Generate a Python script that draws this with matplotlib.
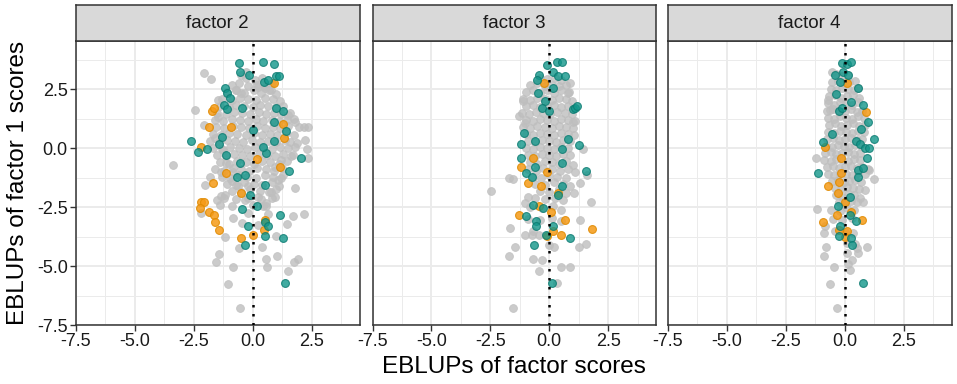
import numpy as np
import matplotlib.pyplot as plt
from matplotlib.ticker import MultipleLocator

plt.rcParams['font.family'] = ['Liberation Sans', 'DejaVu Sans']

panels = ['factor 2', 'factor 3', 'factor 4']
ticks = [-7.5, -5.0, -2.5, 0.0, 2.5]
tick_labels = ['-7.5', '-5.0', '-2.5', '0.0', '2.5']

# ---- factor 2 ----
f2_gray = [
    (-2.06, 3.18), (-1.78, 2.92), (-2.43, 1.62), (-2.06, 0.99), (-3.38, -0.71), (-1.82, -1.24),
    (-2.03, -1.58), (-1.50, -2.19), (-1.33, -2.02), (-1.16, -1.99), (-2.20, -2.73), (-0.83, -2.97),
    (-0.45, -3.18), (-1.16, -3.77), (-1.43, -4.49), (-1.54, -4.84), (-0.83, -5.06), (-1.07, -5.75),
    (-0.55, -6.78), (-0.58, -4.24), (0.40, -4.21), (0.58, -4.70), (0.62, -5.04), (1.03, -4.59),
    (1.50, -5.20), (1.75, -4.84), (1.92, -4.68), (1.00, -3.71), (1.45, -3.21), (1.72, -2.87),
    (2.16, -2.77), (0.65, -2.78), (0.23, -3.25), (1.81, -1.67), (1.29, -1.13), (2.20, 0.35),
    (2.32, -0.04), (2.34, -0.42), (2.18, 0.89), (2.34, 0.89), (1.75, 1.26), (1.50, 1.41),
    (1.89, 0.21), (-0.27, 3.25), (-0.48, 3.11), (0.23, 2.61), (0.51, 2.54), (0.79, 2.47),
    (-0.69, 2.47), (-0.48, 2.33), (-1.47, 2.05), (-1.47, 1.34), (-1.61, 0.42), (-1.26, -0.07),
    (-1.12, -0.64), (-1.33, -0.99), (-0.90, -1.41), (-0.20, -1.62), (0.23, -2.05), (0.58, -2.33),
    (0.79, -1.84), (1.07, -1.34), (0.93, -0.78), (1.21, -0.49), (1.64, -0.35), (1.78, 0.07),
    (-0.20, -2.75), (-0.34, -2.19), (-0.62, -1.62), (-0.83, -0.99), (0.44, -2.47), (0.93, -2.05),
    (-0.3, 3.0), (0.1, 2.9), (0.4, 3.0),
    (-0.9, 2.7), (-0.6, 2.75), (-0.2, 2.65), (0.2, 2.7), (0.5, 2.65), (0.8, 2.75),
    (-1.1, 2.4), (-0.7, 2.45), (-0.35, 2.35), (0.05, 2.45), (0.35, 2.35), (0.7, 2.45), (1.0, 2.3),
    (-1.3, 2.1), (-0.9, 2.05), (-0.55, 2.15), (-0.2, 2.1), (0.15, 2.05), (0.5, 2.15), (0.85, 2.1), (1.15, 2.0),
    (-1.4, 1.8), (-1.0, 1.75), (-0.7, 1.85), (-0.35, 1.8), (0.0, 1.75), (0.3, 1.85), (0.65, 1.8), (1.0, 1.75),
    (1.3, 1.8), (-1.5, 1.5), (-1.15, 1.45), (-0.8, 1.55), (-0.45, 1.5), (-0.1, 1.45), (0.25, 1.55),
    (0.55, 1.45), (0.9, 1.5), (1.2, 1.45), (1.6, 1.5),
    (-1.6, 1.2), (-1.25, 1.15), (-0.9, 1.25), (-0.55, 1.2), (-0.2, 1.15), (0.15, 1.25), (0.45, 1.15),
    (0.8, 1.2), (1.1, 1.15), (1.45, 1.2), (1.8, 1.1),
    (-1.55, 0.9), (-1.2, 0.85), (-0.85, 0.95), (-0.5, 0.9), (-0.15, 0.85), (0.2, 0.95), (0.5, 0.85),
    (0.85, 0.9), (1.15, 0.85), (1.5, 0.95), (1.95, 0.9),
    (-1.7, 0.6), (-1.35, 0.55), (-1.0, 0.65), (-0.65, 0.6), (-0.3, 0.55), (0.05, 0.65), (0.4, 0.55),
    (0.75, 0.6), (1.05, 0.55), (1.4, 0.65), (1.75, 0.55),
    (-1.8, 0.3), (-1.45, 0.25), (-1.1, 0.35), (-0.75, 0.3), (-0.4, 0.25), (-0.05, 0.35), (0.3, 0.25),
    (0.65, 0.3), (1.0, 0.25), (1.35, 0.35), (1.6, 0.25),
    (-1.7, 0.0), (-1.3, -0.05), (-0.95, 0.05), (-0.6, 0.0), (-0.25, -0.05), (0.1, 0.05), (0.45, 0.0),
    (0.8, -0.05), (1.15, 0.05), (1.5, 0.0),
    (-1.5, -0.3), (-1.15, -0.35), (-0.8, -0.25), (-0.45, -0.3), (-0.1, -0.35), (0.25, -0.25), (0.6, -0.3),
    (0.95, -0.35), (1.3, -0.25), (1.7, -0.3),
    (-1.4, -0.6), (-1.0, -0.65), (-0.65, -0.55), (-0.3, -0.6), (0.05, -0.65), (0.4, -0.55), (0.75, -0.6),
    (1.1, -0.65), (1.45, -0.55),
    (-1.6, -0.9), (-1.2, -0.95), (-0.85, -0.85), (-0.5, -0.9), (-0.15, -0.95), (0.2, -0.85), (0.55, -0.9),
    (0.9, -0.95), (1.25, -0.85),
    (-1.3, -1.2), (-0.95, -1.25), (-0.6, -1.15), (-0.25, -1.2), (0.15, -1.25), (0.5, -1.15), (0.85, -1.2),
    (1.2, -1.25), (-1.1, -1.5), (-0.7, -1.55), (-0.35, -1.45), (0.05, -1.5), (0.4, -1.55), (0.8, -1.45),
    (1.1, -1.6), (-0.9, -1.8), (-0.5, -1.85), (-0.1, -1.75), (0.3, -1.8), (0.7, -1.85), (1.0, -1.75),
    (-1.2, -2.1), (-0.7, -2.15), (-0.2, -2.1), (0.35, -2.15), (0.8, -2.1),
    (-1.4, -2.4), (-0.9, -2.45), (0.0, -2.4), (0.55, -2.45),
]
f2_orange = [
    (0.89, 2.78), (-1.75, 1.60), (-1.64, 1.69), (-1.85, 0.92), (-0.93, 0.89), (1.29, 1.02),
    (1.33, 0.45), (-2.20, 0.07), (0.17, -0.44), (1.17, -0.81), (-1.12, -1.03), (-1.68, -1.48),
    (-0.48, -1.91), (-2.20, -2.26), (-2.06, -2.30), (-2.25, -2.54), (-1.85, -2.71), (-1.64, -2.82),
    (-1.61, -3.15), (-1.44, -3.49), (-0.51, -3.80), (0.01, -3.67), (0.51, -3.04), (0.48, -3.46),
]
f2_teal = [
    (-0.59, 3.63), (0.45, 3.64), (0.90, 3.56), (-0.52, 3.22), (-0.17, 3.09), (1.00, 3.06),
    (1.12, 3.08), (0.48, 2.80), (0.65, 2.90), (-1.16, 2.57), (-1.09, 2.33), (-0.95, 2.12),
    (-1.23, 1.84), (-1.09, 1.68), (-0.44, 1.69), (1.30, 1.57), (1.00, 1.69), (0.90, 1.13),
    (1.41, 0.75), (-2.60, 0.31), (-2.32, -0.18), (-1.94, -0.04), (-1.44, 0.18), (-1.31, 0.49),
    (-1.12, -0.28), (0.90, 0.31), (0.58, -0.21), (2.06, -0.42), (1.53, -0.96), (-0.52, -0.61),
    (-0.66, -1.23), (-0.34, -1.13), (0.54, -1.58), (-0.13, -1.98), (-0.44, -2.57), (0.20, -2.43),
    (1.14, -2.85), (0.51, -3.11), (0.65, -3.28), (-0.20, -3.32), (0.54, -3.74), (1.30, -3.81),
    (-0.31, -4.11), (1.36, -5.72), (0.01, 0.78), (0.44, 0.07),
]

# ---- factor 3 ----
f3_gray = [
    (-2.49, -1.81), (-1.69, -1.27), (-1.55, -1.30), (-1.67, -3.39), (-1.45, -4.21), (-1.71, -4.59),
    (-1.55, -6.78), (-1.03, -3.70), (-0.68, -4.69), (-0.42, -5.20), (-0.32, -4.73), (0.21, -4.19),
    (0.48, -5.06), (0.88, -5.04), (1.27, -4.21), (1.55, -4.07), (1.30, -3.04), (1.79, -2.26),
    (1.05, -1.91), (1.30, -1.48), (1.61, -1.13), (1.44, -0.04), (1.02, 1.13), (0.85, 2.40),
    (0.90, 2.78), (-1.13, 2.01), (-1.27, 1.37), (-1.03, 1.06), (-0.89, -2.05), (-1.03, -2.33),
    (-0.68, -3.53), (-0.75, -3.70), (-0.45, -3.70), (0.31, -5.72), (0.0, -4.1),
    (-0.4, 3.0), (-0.1, 2.95), (0.25, 3.0), (0.5, 2.9),
    (-0.8, 2.7), (-0.5, 2.75), (-0.2, 2.65), (0.1, 2.7), (0.4, 2.65), (0.7, 2.7),
    (-1.0, 2.4), (-0.7, 2.45), (-0.4, 2.35), (-0.1, 2.45), (0.2, 2.35), (0.5, 2.45), (0.8, 2.35),
    (-1.1, 2.1), (-0.8, 2.05), (-0.5, 2.15), (-0.2, 2.1), (0.1, 2.05), (0.4, 2.15), (0.7, 2.1), (0.95, 2.0),
    (-1.0, 1.8), (-0.7, 1.85), (-0.4, 1.75), (-0.1, 1.8), (0.2, 1.85), (0.5, 1.75), (0.8, 1.8),
    (-1.15, 1.5), (-0.85, 1.45), (-0.55, 1.55), (-0.25, 1.5), (0.05, 1.45), (0.35, 1.55), (0.65, 1.5),
    (0.95, 1.45), (-1.0, 1.2), (-0.7, 1.15), (-0.4, 1.25), (-0.1, 1.2), (0.2, 1.15), (0.5, 1.25),
    (0.8, 1.2), (1.1, 1.15), (-1.1, 0.9), (-0.8, 0.85), (-0.5, 0.95), (-0.2, 0.9), (0.1, 0.85),
    (0.4, 0.95), (0.7, 0.9), (1.0, 0.85), (-1.0, 0.6), (-0.7, 0.55), (-0.4, 0.65), (-0.1, 0.6),
    (0.2, 0.55), (0.5, 0.65), (0.8, 0.6), (1.05, 0.55),
    (-0.9, 0.3), (-0.6, 0.25), (-0.3, 0.35), (0.0, 0.3), (0.3, 0.25), (0.6, 0.35), (0.9, 0.3),
    (-1.0, 0.0), (-0.7, -0.05), (-0.4, 0.05), (-0.1, 0.0), (0.2, -0.05), (0.5, 0.05), (0.8, 0.0),
    (-0.9, -0.3), (-0.6, -0.35), (-0.3, -0.25), (0.0, -0.3), (0.3, -0.35), (0.6, -0.25), (0.9, -0.3),
    (-0.8, -0.6), (-0.5, -0.65), (-0.2, -0.55), (0.1, -0.6), (0.4, -0.65), (0.7, -0.55), (1.0, -0.7),
    (-0.9, -0.9), (-0.55, -0.95), (-0.25, -0.85), (0.1, -0.9), (0.45, -0.95), (0.8, -0.9), (1.1, -1.0),
    (-0.7, -1.2), (-0.35, -1.25), (0.0, -1.15), (0.35, -1.2), (0.7, -1.25),
    (-0.6, -1.5), (-0.2, -1.55), (0.2, -1.45), (0.6, -1.5), (0.9, -1.6),
    (-0.4, -1.8), (0.0, -1.85), (0.4, -1.75), (0.7, -1.9),
    (-0.6, -2.1), (-0.2, -2.15), (0.25, -2.1), (0.6, -2.2),
    (-0.8, -2.5), (-0.3, -2.55), (0.15, -2.45), (0.5, -2.6),
    (-0.9, -3.0), (-0.4, -3.05), (0.1, -2.95), (0.5, -3.1),
]
f3_orange = [
    (-0.23, 2.78), (-0.68, -0.42), (-1.20, -0.78), (-0.89, -1.48), (-0.37, -1.62), (0.38, -1.91),
    (-0.42, -2.47), (0.07, -2.71), (-1.29, -2.82), (0.66, -3.04), (0.14, -3.50), (0.48, -3.70),
    (1.82, -3.43), (-0.11, -3.74), (-0.11, -0.99),
]
f3_teal = [
    (-0.08, 3.55), (0.35, 3.64), (0.56, 3.64), (0.14, 3.22), (-0.45, 3.11), (-0.54, 2.90),
    (0.38, 3.06), (0.66, 3.08), (0.14, 2.57), (-0.47, 2.33), (-0.18, 2.01), (-0.32, 1.69),
    (0.00, 1.58), (0.99, 1.67), (1.09, 1.72), (1.19, 1.79), (0.78, 0.38), (1.26, 0.14),
    (-1.21, 0.18), (-0.61, 0.31), (-1.07, 0.66), (-1.21, -0.40), (0.56, -0.04), (0.52, -0.61),
    (-1.00, -1.03), (-0.75, -1.23), (-0.61, -0.78), (1.55, -0.96), (0.56, -1.60), (0.38, -1.98),
    (-0.68, -2.40), (-0.28, -2.54), (-1.00, -2.87), (-0.58, -3.08), (-0.58, -3.28), (0.17, -3.32),
    (-0.14, -3.70), (0.88, -3.81), (-0.65, -4.10), (0.10, -5.72),
]

# ---- factor 4 ----
f4_gray = [
    (-1.23, -0.42), (-1.19, -2.58), (-0.83, -3.32), (-0.86, -3.60), (-0.79, -4.21), (-0.86, -4.59),
    (-0.45, -5.06), (-0.64, -5.75), (-0.31, -6.78), (0.96, -4.21), (0.51, -4.24), (0.58, -4.45),
    (0.30, -4.73), (0.23, -5.16), (0.08, -4.45), (0.15, -4.90), (0.86, -1.77), (0.79, -2.26),
    (1.26, -1.30), (1.03, -0.92), (0.55, 2.54), (-0.69, 2.05), (-0.62, 1.62), (-0.55, 3.25),
    (-0.35, 3.15), (-0.1, 3.05), (0.15, 3.1),
    (-0.55, 2.8), (-0.3, 2.85), (-0.05, 2.75), (0.2, 2.8), (0.45, 2.85),
    (-0.6, 2.5), (-0.35, 2.45), (-0.1, 2.55), (0.15, 2.5), (0.4, 2.45),
    (-0.65, 2.2), (-0.4, 2.25), (-0.15, 2.15), (0.1, 2.2), (0.35, 2.25), (0.6, 2.15),
    (-0.7, 1.9), (-0.45, 1.85), (-0.2, 1.95), (0.05, 1.9), (0.3, 1.85), (0.55, 1.95),
    (-0.75, 1.6), (-0.5, 1.65), (-0.25, 1.55), (0.0, 1.6), (0.25, 1.65), (0.5, 1.55), (0.75, 1.6),
    (-0.7, 1.3), (-0.45, 1.25), (-0.2, 1.35), (0.05, 1.3), (0.3, 1.25), (0.55, 1.35), (0.8, 1.3),
    (-0.65, 1.0), (-0.4, 1.05), (-0.15, 0.95), (0.1, 1.0), (0.35, 1.05), (0.6, 0.95), (0.85, 1.0),
    (-0.7, 0.7), (-0.45, 0.65), (-0.2, 0.75), (0.05, 0.7), (0.3, 0.65), (0.55, 0.75), (0.8, 0.7),
    (-0.75, 0.4), (-0.5, 0.45), (-0.25, 0.35), (0.0, 0.4), (0.25, 0.45), (0.5, 0.35), (0.75, 0.4),
    (-0.8, 0.1), (-0.55, 0.05), (-0.3, 0.15), (-0.05, 0.1), (0.2, 0.05), (0.45, 0.15), (0.7, 0.1),
    (-0.85, -0.2), (-0.6, -0.15), (-0.35, -0.25), (-0.1, -0.2), (0.15, -0.15), (0.4, -0.25), (0.65, -0.2),
    (-0.9, -0.5), (-0.6, -0.55), (-0.35, -0.45), (-0.1, -0.5), (0.15, -0.55), (0.4, -0.45), (0.65, -0.5),
    (-0.75, -0.8), (-0.5, -0.75), (-0.25, -0.85), (0.0, -0.8), (0.25, -0.75), (0.5, -0.85), (0.75, -0.8),
    (1.0, -0.9), (-0.7, -1.1), (-0.45, -1.15), (-0.2, -1.05), (0.05, -1.1), (0.3, -1.15), (0.55, -1.05),
    (0.85, -1.1), (-0.55, -1.4), (-0.3, -1.35), (-0.05, -1.45), (0.2, -1.4), (0.45, -1.35), (0.7, -1.45),
    (-0.4, -1.7), (-0.15, -1.75), (0.1, -1.65), (0.35, -1.7), (0.6, -1.75),
    (-0.35, -2.0), (-0.1, -2.05), (0.15, -1.95), (0.4, -2.0), (0.65, -2.1),
    (-0.25, -2.3), (0.0, -2.35), (0.25, -2.25), (0.5, -2.3),
    (-0.6, -2.6), (-0.2, -2.65), (0.1, -2.55), (0.4, -2.6),
    (-0.5, -3.0), (-0.1, -3.05), (0.3, -2.95),
    (-0.4, -3.5), (0.0, -3.55), (0.35, -3.6), (0.1, -4.0), (0.45, -4.05),
]
f4_orange = [
    (0.08, 2.75), (0.90, 1.55), (-0.83, 0.07), (-0.16, -0.42), (-0.17, -1.06), (-0.24, -1.45),
    (-0.73, -1.62), (-0.27, -1.88), (0.01, -2.30), (-0.34, -2.82), (0.27, -2.71), (0.72, -3.04),
    (-0.93, -3.14), (-0.24, -3.46), (0.08, -3.50), (0.01, -3.77),
]
f4_teal = [
    (-0.10, 3.63), (0.08, 3.56), (0.25, 3.64), (-0.06, 3.22), (-0.41, 3.11), (-0.20, 2.80),
    (0.13, 3.11), (0.55, 2.57), (-0.37, 2.30), (0.25, 1.98), (0.76, 1.84), (-0.24, 1.58),
    (-0.13, 1.69), (1.00, 1.10), (0.69, 0.81), (-0.55, 0.61), (1.26, 0.40), (-0.93, 0.28),
    (0.48, 0.32), (0.65, 0.17), (0.86, 0.00), (1.03, 0.03), (0.96, -0.40), (0.58, -0.92),
    (0.76, -0.85), (0.55, -1.23), (-1.12, -1.06), (0.23, -2.05), (-0.30, -2.43), (0.23, -2.85),
    (0.47, -3.08), (-0.20, -3.29), (-0.25, -3.71), (0.25, -3.81), (0.32, -4.10), (0.76, -5.72),
]

data = [(f2_gray, f2_orange, f2_teal), (f3_gray, f3_orange, f3_teal), (f4_gray, f4_orange, f4_teal)]

gray_c = '#BEBEBE'
orange_c = '#F59A16'
teal_c = '#13968A'

fig = plt.figure(figsize=(9.57, 3.84), dpi=100)
W, H = 957, 384
lefts = [76, 372.5, 668]
pw = 283.5
bottom_px, top_px, strip_top = 325, 41, 5

for i, (name, (g, o, t)) in enumerate(zip(panels, data)):
    ax = fig.add_axes([lefts[i] / W, 1 - bottom_px / H, pw / W, (bottom_px - top_px) / H])
    ax.set_xlim(-7.5, 4.53)
    ax.set_ylim(-7.5, 4.55)
    ax.xaxis.set_major_locator(MultipleLocator(2.5))
    ax.yaxis.set_major_locator(MultipleLocator(2.5))
    ax.xaxis.set_minor_locator(MultipleLocator(1.25))
    ax.yaxis.set_minor_locator(MultipleLocator(1.25))
    ax.grid(which='major', color='#EBEBEB', lw=1.4, zorder=0)
    ax.grid(which='minor', color='#EBEBEB', lw=0.7, zorder=0)
    ax.set_axisbelow(True)
    for sp in ax.spines.values():
        sp.set_color('#333333')
        sp.set_linewidth(1.1)
    ax.tick_params(which='minor', length=0)
    ax.tick_params(which='major', length=4, width=1, color='#333333', labelsize=13,
                   labelcolor='#1A1A1A', pad=2)
    ax.set_xticks(ticks)
    ax.set_xticklabels(tick_labels)
    ax.set_yticks(ticks)
    if i == 0:
        ax.set_yticklabels(tick_labels)
    else:
        ax.set_yticklabels([])
        ax.tick_params(axis='y', length=0)

    g = np.array(g); o = np.array(o); t = np.array(t)
    ax.scatter(g[:, 0], g[:, 1], s=32, color=gray_c, alpha=0.8, edgecolors=gray_c, linewidths=0.6, zorder=2)
    ax.scatter(o[:, 0], o[:, 1], s=32, color=orange_c, alpha=0.85, edgecolors='#E08A00', linewidths=0.8, zorder=3)
    ax.scatter(t[:, 0], t[:, 1], s=32, color=teal_c, alpha=0.8, edgecolors='#0A7A70', linewidths=0.8, zorder=3)
    ax.axvline(0, color='black', lw=1.8, ls=(0, (1, 2.6)), zorder=4)

    sax = fig.add_axes([lefts[i] / W, 1 - top_px / H, pw / W, (top_px - strip_top) / H])
    sax.set_facecolor('#D9D9D9')
    sax.set_xticks([]); sax.set_yticks([])
    for sp in sax.spines.values():
        sp.set_color('#333333')
        sp.set_linewidth(1.1)
    sax.text(0.5, 0.5, name, ha='center', va='center', fontsize=13.5, color='#1A1A1A',
             transform=sax.transAxes)

fig.text(513.5 / W, 1 - 367 / H, 'EBLUPs of factor scores', ha='center', va='center', fontsize=17.5)
fig.text(18 / W, 1 - 183 / H, 'EBLUPs of factor 1 scores', ha='center', va='center',
         rotation=90, fontsize=17.5)

fig.savefig('out.png', dpi=100)
